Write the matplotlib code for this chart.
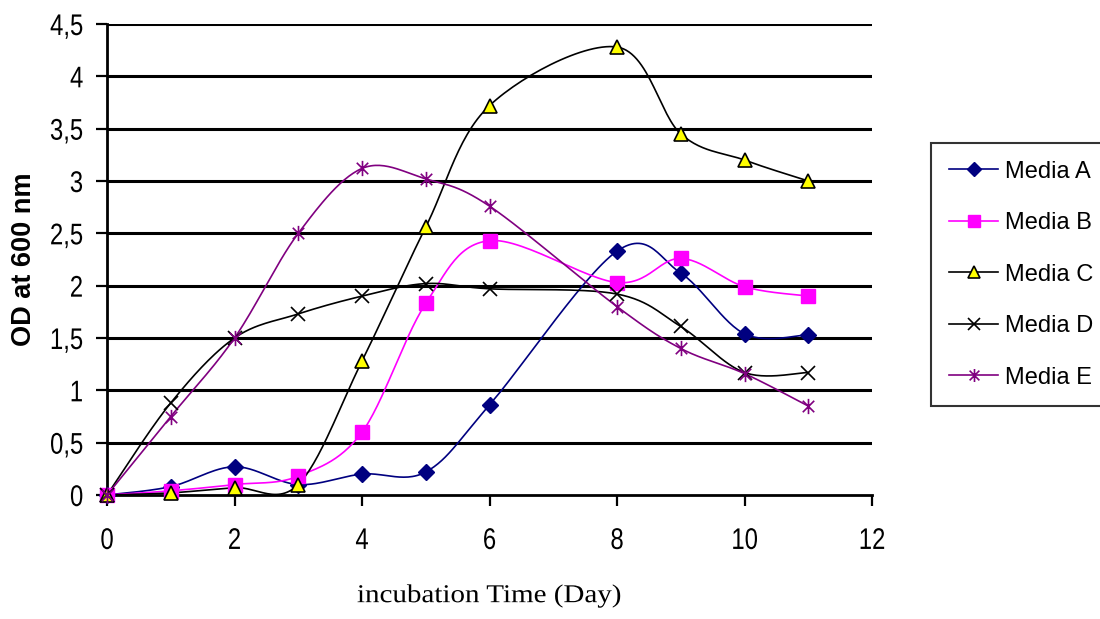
import numpy as np
import matplotlib
matplotlib.use("Agg")
import matplotlib.pyplot as plt
from matplotlib.path import Path
from matplotlib.lines import Line2D
from matplotlib.patheffects import AbstractPathEffect
from matplotlib.transforms import Affine2D

# Sampling days and OD600 readings for each medium
days = [0, 1, 2, 3, 4, 5, 6, 8, 9, 10, 11]
media_a = [0.00, 0.08, 0.27, 0.10, 0.20, 0.22, 0.86, 2.33, 2.12, 1.54, 1.53]
media_b = [0.00, 0.04, 0.10, 0.18, 0.60, 1.83, 2.43, 2.03, 2.26, 1.99, 1.90]
media_c = [0.00, 0.02, 0.07, 0.10, 1.28, 2.56, 3.72, 4.28, 3.45, 3.20, 3.00]
media_d = [0.00, 0.88, 1.50, 1.73, 1.90, 2.02, 1.97, 1.92, 1.61, 1.17, 1.17]
media_e = [0.00, 0.75, 1.50, 2.50, 3.12, 3.02, 2.76, 1.80, 1.40, 1.16, 0.85]

series_labels = ["Media A", "Media B", "Media C", "Media D", "Media E"]
x_ticks = [0, 2, 4, 6, 8, 10, 12]
y_ticks = [0, 0.5, 1, 1.5, 2, 2.5, 3, 3.5, 4, 4.5]
y_tick_labels = ["0", "0,5", "1", "1,5", "2", "2,5", "3", "3,5", "4", "4,5"]

sans = ["Liberation Sans", "DejaVu Sans"]
serif = ["Liberation Serif", "DejaVu Serif"]


class Squeeze(AbstractPathEffect):
    """Scale glyph outlines horizontally along the text direction."""

    def __init__(self, factor, anchor="center"):
        super().__init__()
        self.factor = factor
        self.anchor = anchor

    def draw_path(self, renderer, gc, tpath, affine, rgbFace=None):
        if len(tpath.vertices) == 0:
            renderer.draw_path(gc, tpath, affine, rgbFace)
            return
        ext = tpath.get_extents()
        if self.anchor == "right":
            x0 = ext.x1
        elif self.anchor == "left":
            x0 = ext.x0
        else:
            x0 = 0.5 * (ext.x0 + ext.x1)
        t = Affine2D().translate(-x0, 0).scale(self.factor, 1).translate(x0, 0)
        renderer.draw_path(gc, tpath, t + affine, rgbFace)


# asterisk marker: vertical bar crossed by an x
asterisk = Path(
    [(0, -1), (0, 1), (-0.75, -0.75), (0.75, 0.75), (-0.75, 0.75), (0.75, -0.75)],
    [Path.MOVETO, Path.LINETO, Path.MOVETO, Path.LINETO, Path.MOVETO, Path.LINETO],
)

styles = [
    dict(color="#000080", marker="D", ms=8, mfc="#000080", mec="#000080"),
    dict(color="#FF00FF", marker="s", ms=9.5, mfc="#FF00FF", mec="#FF00FF"),
    dict(color="#000000", marker="^", ms=10, mfc="#FFFF00", mec="#000000", mew=1.2),
    dict(color="#000000", marker="x", ms=10, mfc="none", mec="#000000", mew=1.2),
    dict(color="#800080", marker=asterisk, ms=11, mfc="none", mec="#800080", mew=1.2),
]

fig = plt.figure(figsize=(11, 6.19), dpi=100)
ax = fig.add_axes([107 / 1100, 1 - 495 / 619, (872 - 107) / 1100, (495 - 24) / 619])
ax.set_xlim(0, 12)
ax.set_ylim(0, 4.5)

# scale factors so the smoothing works in screen space
sx = (872 - 107) / 12.0
sy = (495 - 24) / 4.5


def smooth(xs, ys, n=30):
    """Cubic Bezier smoothing through every point (Catmull-Rom tangents)."""
    px = np.asarray(xs, float) * sx
    py = np.asarray(ys, float) * sy
    m = len(px)
    out_x, out_y = [], []
    t = np.linspace(0, 1, n)
    for i in range(m - 1):
        p0 = np.array([px[i], py[i]])
        p3 = np.array([px[i + 1], py[i + 1]])
        prev = np.array([px[i - 1], py[i - 1]]) if i > 0 else p0
        nxt = np.array([px[i + 2], py[i + 2]]) if i + 2 < m else p3
        c1 = p0 + (p3 - prev) / 6.0
        c2 = p3 - (nxt - p0) / 6.0
        seg = ((1 - t) ** 3)[:, None] * p0 + (3 * (1 - t) ** 2 * t)[:, None] * c1 \
            + (3 * (1 - t) * t ** 2)[:, None] * c2 + (t ** 3)[:, None] * p3
        if i > 0:
            seg = seg[1:]
        out_x.extend(seg[:, 0])
        out_y.extend(seg[:, 1])
    return np.array(out_x) / sx, np.array(out_y) / sy


# horizontal grid
for yv in y_ticks[1:]:
    ax.axhline(yv, color="black", lw=2.2, zorder=1)

all_series = [media_a, media_b, media_c, media_d, media_e]
handles = []
for vals, lab, st in zip(all_series, series_labels, styles):
    cx, cy = smooth(days, vals)
    ax.plot(cx, cy, color=st["color"], lw=1.2, zorder=3)
    ax.plot(days, vals, ls="none", marker=st["marker"], ms=st["ms"],
            mfc=st["mfc"], mec=st["mec"], mew=st.get("mew", 1.0), zorder=4, clip_on=False)
    handles.append(Line2D([], [], color=st["color"], lw=1.2, marker=st["marker"],
                          ms=st["ms"] * 0.85, mfc=st["mfc"], mec=st["mec"],
                          mew=st.get("mew", 1.0)))

for side in ["top", "right"]:
    ax.spines[side].set_visible(False)
ax.spines["left"].set_linewidth(2.0)
ax.spines["bottom"].set_linewidth(2.0)

ax.set_xticks(x_ticks)
ax.set_xticklabels([str(v) for v in x_ticks], family=sans, fontsize=21.5,
                   path_effects=[Squeeze(0.8)])
ax.set_yticks(y_ticks)
ax.set_yticklabels(y_tick_labels, family=sans, fontsize=21.5,
                   path_effects=[Squeeze(0.8, "right")])
ax.tick_params(axis="x", direction="out", length=8, width=1.6, pad=15)
ax.tick_params(axis="y", direction="out", length=8, width=1.6, pad=9)

ax.set_xlabel("incubation Time (Day)", family=serif, fontsize=18.5,
              path_effects=[Squeeze(1.13)])
ax.xaxis.set_label_coords(0.5, -0.19)
ax.set_ylabel("OD at 600 nm", family=sans, fontweight="bold", fontsize=19.5)
ax.yaxis.set_label_coords(-0.091, 0.5)

leg = fig.legend(handles, series_labels, loc="upper left",
                 bbox_to_anchor=(931 / 1100, 1 - 143 / 619),
                 prop={"family": sans, "size": 17},
                 frameon=True, fancybox=False, edgecolor="black",
                 handlelength=2.1, handletextpad=0.3, labelspacing=1.25,
                 borderpad=0.75, borderaxespad=0)
leg.get_frame().set_linewidth(1.5)

fig.savefig("out.png", dpi=100)
